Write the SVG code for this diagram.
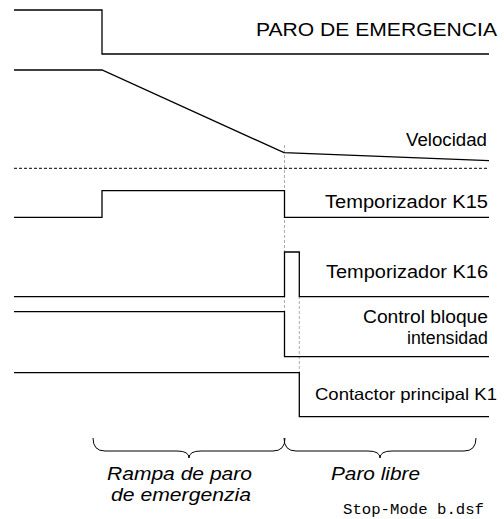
<svg xmlns="http://www.w3.org/2000/svg" width="504" height="519" viewBox="0 0 504 519">
<style>
.sig{fill:none;stroke:#000;stroke-width:1.3;stroke-linejoin:miter}
.guide{fill:none;stroke:#999;stroke-width:0.8;stroke-dasharray:3 2}
.sep{fill:none;stroke:#000;stroke-width:1;stroke-dasharray:3 2}
.lbl{font-family:"Liberation Sans",Arial,sans-serif;font-size:17.5px;fill:#000}
.it{font-family:"Liberation Sans",Arial,sans-serif;font-size:18px;font-style:italic;fill:#000}
.mono{font-family:"Liberation Mono","Courier New",monospace;font-size:15px;fill:#000}
.brace{fill:none;stroke:#000;stroke-width:1}
</style>
<rect width="504" height="519" fill="#fff"/>
<g id="connectors">
<path class="guide" d="M284.5,145 V356"/>
<path class="guide" d="M299.3,296 V372"/>
<path class="sep" d="M14,168.3 H487"/>
</g>
<g id="paro">
<path class="sig" d="M14,10 H102 V54 H489"/>
<text class="lbl" x="256" y="36" textLength="241" lengthAdjust="spacingAndGlyphs">PARO DE EMERGENCIA</text>
</g>
<g id="velocidad">
<path class="sig" d="M14,70 H102 L284,152.7 L489,160.7"/>
<text class="lbl" x="406" y="146" textLength="81" lengthAdjust="spacingAndGlyphs">Velocidad</text>
</g>
<g id="k15">
<path class="sig" d="M14,217.3 H102 V190.7 H284.5 V217.3 H489"/>
<text class="lbl" x="325" y="208" textLength="163" lengthAdjust="spacingAndGlyphs">Temporizador K15</text>
</g>
<g id="k16">
<path class="sig" d="M14,296.7 H284.5 V252 H299.3 V296.7 H489"/>
<text class="lbl" x="326" y="278" textLength="162" lengthAdjust="spacingAndGlyphs">Temporizador K16</text>
</g>
<g id="control">
<path class="sig" d="M14,311.7 H284.5 V356.7 H489"/>
<text class="lbl" x="363" y="323" textLength="125" lengthAdjust="spacingAndGlyphs">Control bloque</text>
<text class="lbl" x="407" y="344" textLength="81" lengthAdjust="spacingAndGlyphs">intensidad</text>
</g>
<g id="contactor">
<path class="sig" d="M14,372.7 H299.3 V416.7 H489"/>
<text class="lbl" x="315" y="400" style="font-size:16.5px" textLength="182" lengthAdjust="spacingAndGlyphs">Contactor principal K1</text>
</g>
<g id="rampa">
<path class="brace" d="M93,438 Q93,451 105,451 H177 Q189,451 189,458 Q189,451 201,451 H273 Q285,451 285,438"/>
<text class="it" x="107" y="480" textLength="145" lengthAdjust="spacingAndGlyphs">Rampa de paro</text>
<text class="it" x="111" y="501" textLength="140" lengthAdjust="spacingAndGlyphs">de emergenzia</text>
</g>
<g id="libre">
<path class="brace" d="M284,438 Q284,451 296,451 H368 Q380,451 380,458 Q380,451 392,451 H464 Q476,451 476,438"/>
<text class="it" x="331" y="480" textLength="89" lengthAdjust="spacingAndGlyphs">Paro libre</text>
</g>
<g id="filename">
<text class="mono" x="343" y="514" textLength="141" lengthAdjust="spacingAndGlyphs">Stop-Mode b.dsf</text>
</g>
</svg>
